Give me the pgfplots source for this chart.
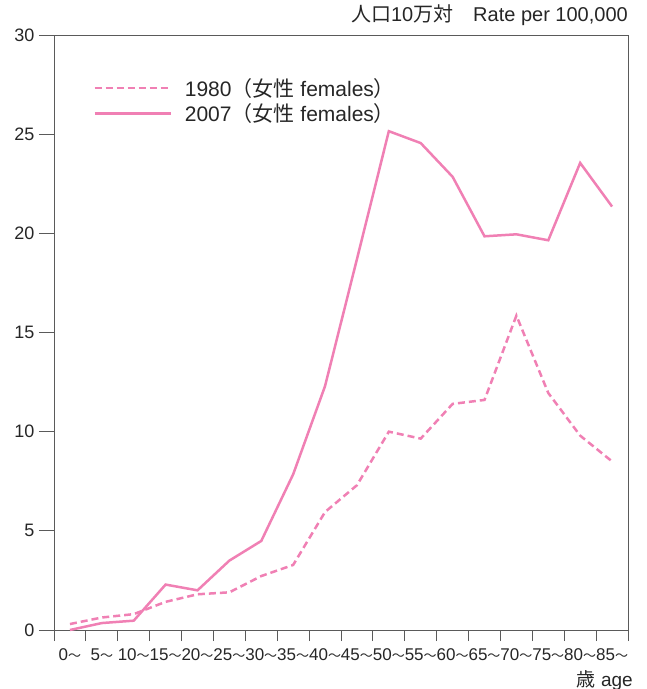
\documentclass[border=0pt]{standalone}
\usepackage{pgfplots}
\pgfplotsset{compat=1.18}
\usepackage{fontspec}
\setmainfont{Liberation Sans}
\newfontfamily\cjk{Noto Sans CJK JP}
\definecolor{pinkline}{RGB}{240,128,180}
\definecolor{axgray}{RGB}{90,90,90}
\newcommand{\wv}{{\cjk\fontsize{13}{13}\selectfont 〜}}
\pgfplotstableread{
x y
0 0.30
1 0.63
2 0.80
3 1.42
4 1.80
5 1.90
6 2.72
7 3.28
8 5.95
9 7.30
10 10.00
11 9.65
12 11.40
13 11.60
14 15.85
15 11.95
16 9.80
17 8.50
}\datanineteeneighty
\pgfplotstableread{
x y
0 0.00
1 0.35
2 0.47
3 2.29
4 2.00
5 3.50
6 4.49
7 7.85
8 12.30
9 18.70
10 25.15
11 24.55
12 22.85
13 19.85
14 19.95
15 19.65
16 23.55
17 21.35
}\datatwothousandseven
\begin{document}
\begin{tikzpicture}
\begin{axis}[
  name=ax,
  scale only axis,
  width=574pt, height=595pt,
  xmin=-0.5, xmax=17.5,
  ymin=0, ymax=30,
  axis line style={draw=axgray, line width=0.9pt},
  xtick={0,...,17},
  xticklabels={0\wv,5\wv,10\wv,15\wv,20\wv,25\wv,30\wv,35\wv,40\wv,45\wv,50\wv,55\wv,60\wv,65\wv,70\wv,75\wv,80\wv,85\wv},
  minor xtick={-0.5,0.5,...,17.5},
  ytick={0,5,...,30},
  tick align=outside,
  xtick pos=bottom, ytick pos=left,
  major tick length=15pt,
  minor tick length=11pt,
  major x tick style={draw=none},
  every tick/.style={draw=axgray, line width=0.9pt},
  minor x tick style={draw=axgray, line width=0.9pt},
  /pgf/number format/assume math mode=true,
  yticklabel style={font=\fontsize{18}{20}\selectfont, text=black!85, xshift=-1pt},
  xticklabel style={font=\fontsize{17}{19}\selectfont, text=black!85, yshift=0pt},
  legend style={at={(rel axis cs:0.063,0.933)}, anchor=north west, draw=none, fill=none,
    font=\fontsize{21}{23}\selectfont, text=black!85, row sep=4pt,
    nodes={inner sep=1pt}},
  legend cell align=left,
  legend image code/.code={\draw[#1] (0pt,0pt) -- (76pt,0pt);},
  clip=false,
]
\addplot[pinkline, line width=2.5pt, dash pattern=on 7pt off 4pt] table[x=x,y=y] {\datanineteeneighty};
\addlegendentry{\hspace*{12pt}1980{\cjk （女性} females{\cjk ）}}
\addplot[pinkline, line width=2.5pt] table[x=x,y=y] {\datatwothousandseven};
\addlegendentry{\hspace*{12pt}2007{\cjk （女性} females{\cjk ）}}
\end{axis}
\node[anchor=south east, inner sep=0pt, font=\fontsize{20}{22}\selectfont, text=black!85] at ([yshift=9pt]ax.north east) {{\cjk 人口}10{\cjk 万対}\hspace{1em}Rate per 100,000};
\node[anchor=north east, inner sep=0pt, font=\fontsize{19}{21}\selectfont, text=black!85] at ([xshift=5pt,yshift=-40pt]ax.south east) {{\cjk 歳} age};
\pgfresetboundingbox
\path[use as bounding box] ([xshift=-54pt,yshift=-59pt]ax.south west) rectangle ([xshift=18pt,yshift=35pt]ax.north east);
\end{tikzpicture}
\end{document}
